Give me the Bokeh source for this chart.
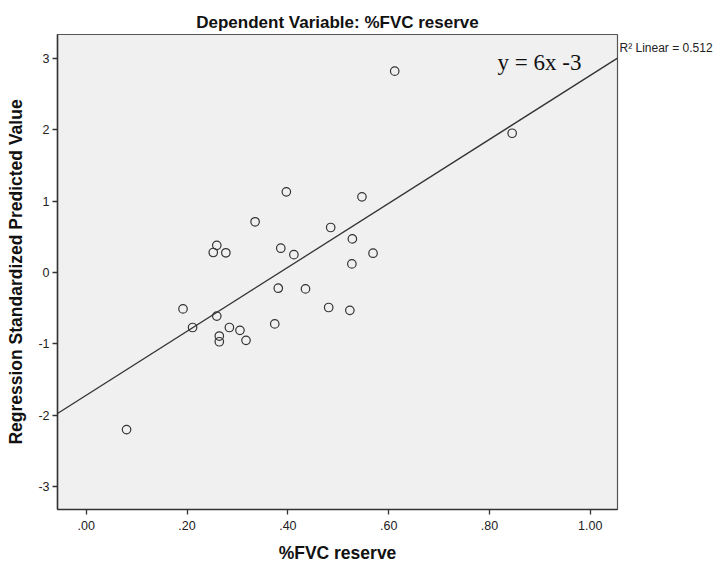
from bokeh.plotting import figure
from bokeh.models import FixedTicker, Label, ColumnDataSource, Range1d, LinearAxis
from bokeh.embed import file_html
from bokeh.resources import INLINE

# Data
fvc_reserve = [0.080, 0.192, 0.211, 0.259, 0.252, 0.277, 0.259, 0.284, 0.305, 0.264,
               0.264, 0.317, 0.397, 0.335, 0.485, 0.386, 0.412, 0.381, 0.435, 0.481,
               0.374, 0.547, 0.528, 0.569, 0.527, 0.523, 0.612, 0.845]
std_pred = [-2.20, -0.51, -0.77, 0.38, 0.28, 0.276, -0.61, -0.77, -0.81, -0.89,
            -0.97, -0.95, 1.13, 0.71, 0.63, 0.34, 0.25, -0.22, -0.23, -0.49,
            -0.72, 1.06, 0.47, 0.27, 0.12, -0.53, 2.82, 1.95]

fit_intercept = -1.72
fit_slope = 4.48
r2_text = "R\u00b2 Linear = 0.512"
r2_y = 3.15
eq_text = "y = 6x -3"

x_ticks = [0.0, 0.2, 0.4, 0.6, 0.8, 1.0]
x_tick_labels = [".00", ".20", ".40", ".60", ".80", "1.00"]
y_ticks = [-3, -2, -1, 0, 1, 2, 3]
y_tick_labels = ["-3", "-2", "-1", "0", "1", "2", "3"]

x_min, x_max = -0.057, 1.054
y_min, y_max = -3.319, 3.333

FONT = "Liberation Sans"

p = figure(width=716, height=565, output_backend="svg", toolbar_location=None,
           x_range=Range1d(x_min, x_max), y_range=Range1d(y_min, y_max),
           min_border_left=57, min_border_right=99, min_border_top=34, min_border_bottom=56,
           title="Dependent Variable: %FVC reserve")
p.frame_width = 560
p.frame_height = 475
p.background_fill_color = "#f0f0f0"
p.border_fill_color = "white"
p.outline_line_color = "#555555"
p.outline_line_width = 1.2
p.grid.visible = False

p.title.align = "center"
p.title.text_font = FONT
p.title.text_font_size = "17px"
p.title.text_font_style = "bold"
p.title.text_color = "#111111"
p.title.offset = 0
p.title.standoff = 5

for ax in (p.xaxis[0], p.yaxis[0]):
    ax.axis_line_color = "#333333"
    ax.axis_line_width = 1.5
    ax.major_tick_line_color = "#333333"
    ax.major_tick_line_width = 1.3
    ax.major_tick_out = 5
    ax.major_tick_in = 0
    ax.minor_tick_line_color = None
    ax.major_label_text_font = FONT
    ax.major_label_text_font_size = "12.5px"
    ax.major_label_text_color = "#222222"
    ax.axis_label_text_font = FONT
    ax.axis_label_text_font_size = "17.5px"
    ax.axis_label_text_font_style = "bold"
    ax.axis_label_text_color = "#111111"

p.xaxis.ticker = FixedTicker(ticks=x_ticks)
p.xaxis.major_label_overrides = {t: l for t, l in zip(x_ticks, x_tick_labels)}
p.xaxis.axis_label = "%FVC reserve"
p.xaxis.major_label_standoff = 6
p.xaxis.axis_label_standoff = 10

p.yaxis.ticker = FixedTicker(ticks=y_ticks)
p.yaxis.major_label_overrides = {t: l for t, l in zip(y_ticks, y_tick_labels)}
p.yaxis.axis_label = "Regression Standardized Predicted Value"
p.yaxis.major_label_standoff = 3
p.yaxis.axis_label_standoff = 9

# R-squared note placed right of the frame via a label-only axis
r_axis = LinearAxis(ticker=FixedTicker(ticks=[r2_y]),
                    major_label_overrides={r2_y: r2_text})
r_axis.axis_line_color = None
r_axis.major_tick_line_color = None
r_axis.minor_tick_line_color = None
r_axis.major_tick_out = 0
r_axis.major_tick_in = 0
r_axis.major_label_standoff = 2
r_axis.major_label_text_font = FONT
r_axis.major_label_text_font_size = "12px"
r_axis.major_label_text_color = "#222222"
p.add_layout(r_axis, "right")

# Fit line across the full x range
p.line([x_min, x_max], [fit_intercept + fit_slope * x_min, fit_intercept + fit_slope * x_max],
       line_color="#333333", line_width=1.3)

src = ColumnDataSource(dict(x=fvc_reserve, y=std_pred))
p.scatter("x", "y", source=src, size=8.5, marker="circle", fill_color=None,
          line_color="#333333", line_width=1.2)

p.add_layout(Label(x=0.816, y=2.94, text=eq_text, text_font="Liberation Serif",
                   text_font_size="23px", text_color="#111111", text_baseline="middle",
                   text_align="left"))

open("out.html", "w").write(file_html(p, INLINE))
